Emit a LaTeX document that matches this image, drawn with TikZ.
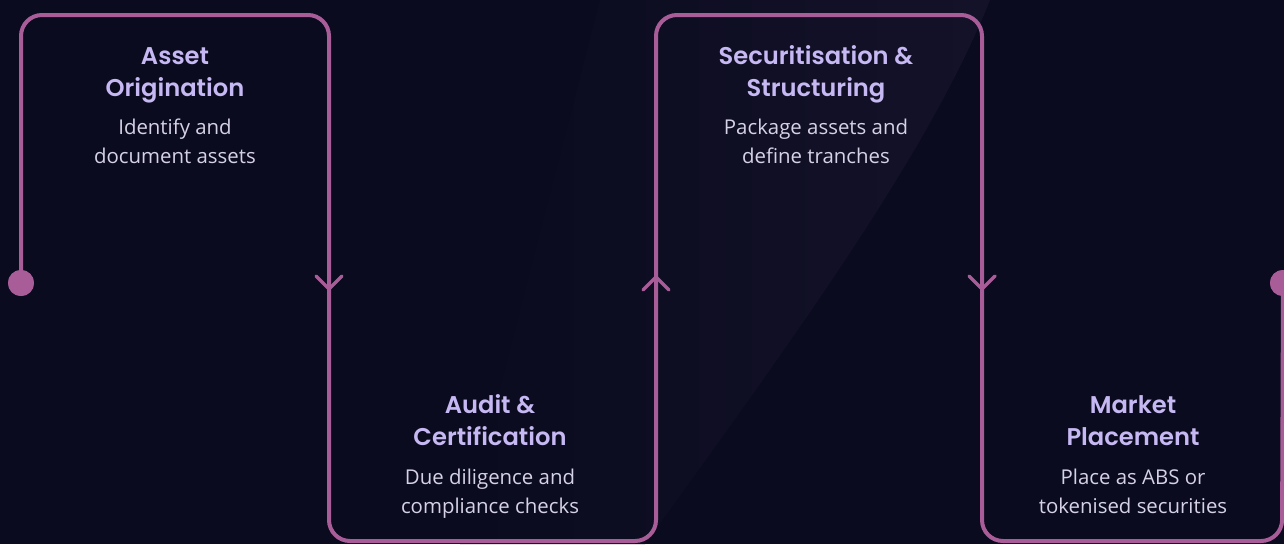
\documentclass[tikz,border=0pt]{standalone}
\usepackage{fontspec}
\setmainfont{Open Sans}
\newfontfamily\titlefont{Poppins SemiBold}
\usepackage{tikz}
\usetikzlibrary{positioning}
\definecolor{bgc}{HTML}{0A0B1F}
\definecolor{glowc}{HTML}{141229}
\definecolor{flow}{HTML}{A95D98}
\definecolor{titlec}{HTML}{C6B8F2}
\definecolor{descc}{HTML}{D6D2E6}
\tikzset{
title/.style={
  font=\titlefont\fontsize{24.2}{32}\selectfont,
  text=titlec,
  align=center,
  inner sep=0pt,
  anchor=base
  },
desc/.style={
  font=\fontsize{20.4}{29}\selectfont,
  text=descc,
  align=center,
  inner sep=0pt
  },
flowline/.style={draw=flow, line width=4pt, rounded corners=21pt},
chev/.style={draw=flow, line width=3.5pt, line cap=round, line join=round},
dot/.style={circle, fill=flow, inner sep=0pt, minimum size=26pt}
}

\begin{document}
\begin{tikzpicture}[x=1pt,y=-1pt]
    \fill[bgc] (0,0) rectangle (1284,544);
    \shade[left color=bgc, right color=glowc] (460,544) -- (645,544) .. controls (800,330) and (930,150) .. (990,0) -- (600,0) -- cycle;
    \useasboundingbox (0,0) rectangle (1284,544);
    % corners of the flow line
    \coordinate (c1) at (21,15);
    \coordinate (c2) at (329,15);
    \coordinate (c3) at (329,541);
    \coordinate (c4) at (656,541);
    \coordinate (c5) at (656,15);
    \coordinate (c6) at (982,15);
    \coordinate (c7) at (982,541);
    \coordinate (c8) at (1282,541);
    \node[dot] (start) at (21,283) {};
    \node[dot] (end) at (1283,283) {};
    \draw[flowline] (start.center) -- (c1) -- (c2) -- (c3) -- (c4) -- (c5) -- (c6) -- (c7) -- (c8) -- (end.center);
    \node[dot] at (start) {};
    \node[dot] at (end) {};
    % direction marks
    \coordinate (a1) at (329,289);
    \coordinate (a2) at (656,277);
    \coordinate (a3) at (982,289);
    \draw[chev] ([shift={(-13,-13)}]a1) -- (a1) -- ([shift={(13,-13)}]a1);
    \draw[chev] ([shift={(-13,13)}]a2) -- (a2) -- ([shift={(13,13)}]a2);
    \draw[chev] ([shift={(-13,-13)}]a3) -- (a3) -- ([shift={(13,-13)}]a3);
    % steps
    \node[title] (t1) at (175,96) {Asset\\Origination};
    \node[desc, below=67pt of t1.base, anchor=base] (d1) {Identify and\\document assets};
    \node[title] (t2) at (490,445) {Audit \&\\Certification};
    \node[desc, below=68pt of t2.base, anchor=base] (d2) {Due diligence and\\compliance checks};
    \node[title] (t3) at (816,96) {Securitisation \&\\Structuring};
    \node[desc, below=67pt of t3.base, anchor=base] (d3) {Package assets and\\define tranches};
    \node[title] (t4) at (1133,445) {Market\\Placement};
    \node[desc, below=68pt of t4.base, anchor=base] (d4) {Place as ABS or\\tokenised securities};
\end{tikzpicture}
\end{document}
